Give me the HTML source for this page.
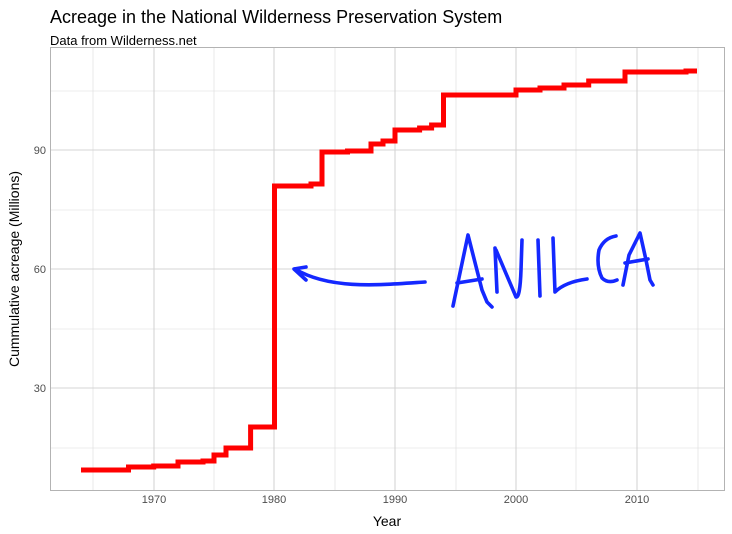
<!DOCTYPE html>
<html><head><style>body{margin:0;background:#fff}svg{display:block;font-family:"Liberation Sans",sans-serif}</style></head>
<body>
<svg width="732" height="534" viewBox="0 0 732 534">
<text x="50" y="23" font-size="18" fill="#000">Acreage in the National Wilderness Preservation System</text>
<text x="50" y="45" font-size="13" fill="#000">Data from Wilderness.net</text>
<g stroke="#dcdcdc" stroke-width="0.6">
<line x1="51" x2="724" y1="91" y2="91"/><line x1="51" x2="724" y1="210" y2="210"/><line x1="51" x2="724" y1="329" y2="329"/><line x1="51" x2="724" y1="448" y2="448"/>
<line y1="48" y2="490" x1="93" x2="93"/><line y1="48" y2="490" x1="214" x2="214"/><line y1="48" y2="490" x1="335" x2="335"/><line y1="48" y2="490" x1="456" x2="456"/><line y1="48" y2="490" x1="576" x2="576"/><line y1="48" y2="490" x1="698" x2="698"/>
</g>
<g stroke="#d4d4d4" stroke-width="1.1">
<line x1="51" x2="724" y1="150" y2="150"/><line x1="51" x2="724" y1="269" y2="269"/><line x1="51" x2="724" y1="388" y2="388"/>
<line y1="48" y2="490" x1="154" x2="154"/><line y1="48" y2="490" x1="274" x2="274"/><line y1="48" y2="490" x1="395" x2="395"/><line y1="48" y2="490" x1="516" x2="516"/><line y1="48" y2="490" x1="637" x2="637"/>
</g>
<rect x="50.5" y="47.5" width="674" height="443" fill="none" stroke="#b3b3b3" stroke-width="1"/>
<path d="M81 470H128.5V467H153.7V466H178V462H203V461H214V455H226V448H250.6V427H274.5V186H311V184H322V152H347.5V151H371V144H383V141H395V130H419.6V128H431.6V125H443.5V95H516V90H540V88H564V85H588.7V81H625V72H686V71H697" fill="none" stroke="#ff0000" stroke-width="5"/>
<g font-size="11" fill="#4d4d4d" text-anchor="end"><text x="46" y="154">90</text><text x="46" y="273">60</text><text x="46" y="392">30</text></g>
<g font-size="11" fill="#4d4d4d" text-anchor="middle"><text x="154" y="503">1970</text><text x="274" y="503">1980</text><text x="395" y="503">1990</text><text x="516" y="503">2000</text><text x="637" y="503">2010</text></g>
<text x="387" y="526" font-size="14" text-anchor="middle">Year</text>
<text transform="translate(19,269) rotate(-90)" font-size="14" text-anchor="middle">Cummulative acreage (Millions)</text>
<g fill="none" stroke="#1428ff" stroke-width="3.6" stroke-linecap="round" stroke-linejoin="round">
<path d="M425 282C380 285 330 290 295 269"/>
<path d="M306 267L294 269L306 280"/>
<path d="M453 306L468 235L482 290L487 302L492 307"/>
<path d="M457 283L482 279"/>
<path d="M495 248L497 292"/>
<path d="M496 250L516 297Q520 298 521 270L522 240"/>
<path d="M538 240L540 296"/>
<path d="M553 238L555 292Q565 282 587 279"/>
<path d="M616 236Q604 238 599 250Q596 266 602 278Q608 284 617 280"/>
<path d="M623 285L629 255L640 233L646 260L650 280L653 285"/>
<path d="M625 263L648 259"/>
</g>
</svg>
</body></html>
